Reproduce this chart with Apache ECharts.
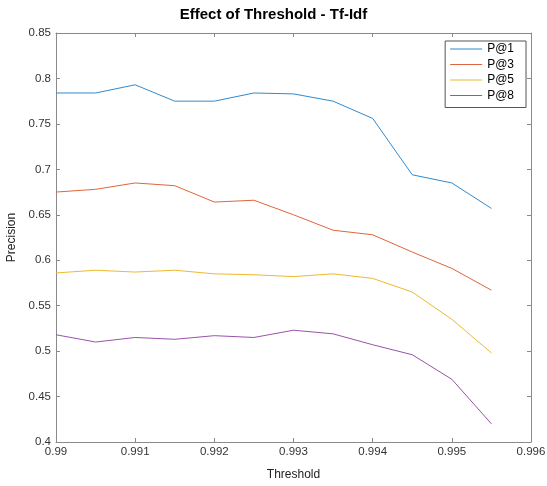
<!DOCTYPE html>
<html>
<head>
<meta charset="utf-8">
<script src="https://cdn.jsdelivr.net/npm/echarts@6/dist/echarts.min.js"></script>
<style>
	html, body { margin: 0; padding: 0; background: #fff; }
	#resultChart { width: 547px; height: 486px; }
</style>
</head>
<body>
<div id="resultChart"></div>
<script>
// 阈值（横轴）
var thresholds = [0.99, 0.9905, 0.991, 0.9915, 0.992, 0.9925, 0.993, 0.9935, 0.994, 0.9945, 0.995, 0.9955];
// 各个 P@k 的精度
var p1 = [0.784, 0.784, 0.793, 0.775, 0.775, 0.784, 0.783, 0.775, 0.756, 0.694, 0.685, 0.657];
var p3 = [0.675, 0.678, 0.685, 0.682, 0.664, 0.666, 0.650, 0.633, 0.628, 0.609, 0.591, 0.567];
var p5 = [0.586, 0.589, 0.587, 0.589, 0.585, 0.584, 0.582, 0.585, 0.580, 0.565, 0.535, 0.498];
var p8 = [0.518, 0.510, 0.515, 0.513, 0.517, 0.515, 0.523, 0.519, 0.507, 0.496, 0.469, 0.420];
var seriesNames = ['P@1', 'P@3', 'P@5', 'P@8'];
var seriesValues = [p1, p3, p5, p8];
var colors = ['#2f8ad0', '#e0653a', '#efb832', '#9a52ab'];

var AXIS_COLOR = '#8a8a8a';
var FONT = 'Liberation Sans, Helvetica, Arial, sans-serif';

//把横轴和纵轴的数组拼成点
function makePoints(values) {
	var pts = [];
	for (var i = 0; i < thresholds.length; i++) {
		pts.push([thresholds[i], values[i]]);
	}
	return pts;
}

//四周的框线，刻度朝里
function boxAxis(show, extra) {
	var axis = {
		type : 'value',
		axisLine : { show : true, onZero : false, lineStyle : { color : AXIS_COLOR, width : 1 } },
		axisTick : { show : true, inside : true, length : 4, lineStyle : { color : AXIS_COLOR } },
		axisLabel : { show : show, color : '#333', fontSize : 11.5, fontFamily : FONT },
		splitLine : { show : false }
	};
	for (var k in extra) axis[k] = extra[k];
	return axis;
}

function drawChart() {
	var myChart = echarts.init(document.getElementById('resultChart'));
	var xRange = { min : 0.99, max : 0.996, interval : 0.001 };
	var yRange = { min : 0.4, max : 0.85, interval : 0.05 };

	var series = [];
	for (var i = 0; i < seriesNames.length; i++) {
		series.push({
			name : seriesNames[i],
			type : 'line',
			symbol : 'none',
			animation : false,
			lineStyle : { width : 1, color : colors[i] },
			itemStyle : { color : colors[i] },
			data : makePoints(seriesValues[i])
		});
	}

	var option = {
		backgroundColor : '#fff',
		title : {
			text : 'Effect of Threshold - Tf-Idf',
			left : 'center',
			top : 2,
			textStyle : { fontSize : 15, fontWeight : 'bold', color : '#000', fontFamily : FONT }
		},
		legend : {
			orient : 'vertical',
			right : 21,
			top : 41,
			data : seriesNames,
			icon : 'rect',
			borderColor : '#555',
			borderWidth : 1,
			padding : [2, 12, 6, 5],
			itemGap : 3.5,
			itemWidth : 32,
			itemHeight : 1,
			textStyle : { fontSize : 12, lineHeight : 12, color : '#000', fontFamily : FONT }
		},
		grid : { left : 56, right : 16, top : 33, bottom : 44, outerBoundsMode : 'none' },
		xAxis : [
			boxAxis(true, {
				min : xRange.min, max : xRange.max, interval : xRange.interval,
				name : 'Threshold', nameLocation : 'middle', nameGap : 27,
				nameTextStyle : { fontSize : 12, color : '#222', fontFamily : FONT },
				axisLabel : { show : true, color : '#333', fontSize : 11.5, fontFamily : FONT, margin : 4 }
			}),
			boxAxis(false, { position : 'top', min : xRange.min, max : xRange.max, interval : xRange.interval })
		],
		yAxis : [
			boxAxis(true, {
				min : yRange.min, max : yRange.max, interval : yRange.interval,
				name : 'Precision', nameLocation : 'middle', nameGap : 37,
				nameTextStyle : { fontSize : 12, color : '#222', fontFamily : FONT },
				axisLabel : { show : true, color : '#333', fontSize : 11.5, fontFamily : FONT, margin : 5 }
			}),
			boxAxis(false, { position : 'right', min : yRange.min, max : yRange.max, interval : yRange.interval })
		],
		series : series
	};
	myChart.setOption(option);
}

drawChart();
</script>
</body>
</html>
